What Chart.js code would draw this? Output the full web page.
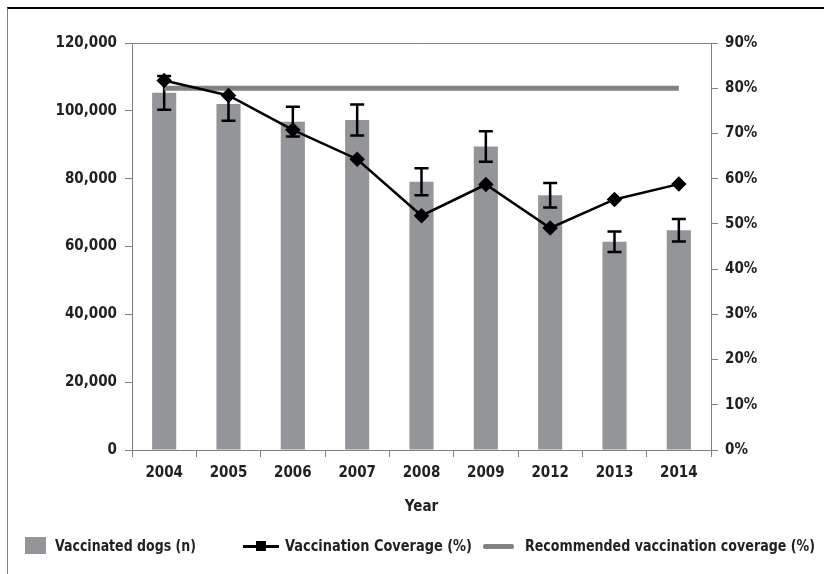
<!DOCTYPE html>
<html>
<head>
<meta charset="utf-8">
<script src="https://cdn.jsdelivr.net/npm/chart.js@4"></script>
<style>
  body { margin: 0; background: #fff; }
  #wrap { position: relative; width: 824px; height: 574px; font-family: "DejaVu Sans Condensed", "DejaVu Sans", sans-serif; font-stretch: condensed; font-weight: bold; color: #231f20; }
  #frame { position: absolute; left: 7px; top: 7px; right: 0; bottom: 0; border-left: 1px solid #808080; border-top: 2px solid #000; }
  #chart { position: absolute; left: 0; top: 0; }
  .lg { position: absolute; top: 536px; font-size: 16px; line-height: 20px; white-space: nowrap; display: inline-block; transform-origin: 0 50%; }
  .mk { position: absolute; }
</style>
</head>
<body>
<div id="wrap">
  <div id="frame"></div>
  <canvas id="chart" width="824" height="574"></canvas>
  <div class="mk" style="left:25px;top:537px;width:21px;height:17px;background:#939598;"></div>
  <span class="lg" style="left:55px;" data-w="141">Vaccinated dogs (n)</span>
  <div class="mk" style="left:243px;top:545px;width:36px;height:3px;background:#000;"></div>
  <div class="mk" style="left:256px;top:541px;width:10px;height:10px;background:#000;"></div>
  <span class="lg" style="left:285px;" data-w="187">Vaccination Coverage (%)</span>
  <div class="mk" style="left:483px;top:544px;width:31px;height:5px;background:#808285;border-radius:2px;"></div>
  <span class="lg" style="left:525px;" data-w="290">Recommended vaccination coverage (%)</span>
</div>
<script>
// chart values
const years = ['2004', '2005', '2006', '2007', '2008', '2009', '2012', '2013', '2014'];
const dogs = [105300, 102000, 96800, 97300, 79100, 89500, 75100, 61400, 64800];
const dogsErr = [5000, 4900, 4400, 4600, 4000, 4500, 3600, 3000, 3300];
const coverage = [81.7, 78.4, 70.8, 64.3, 51.8, 58.7, 49.1, 55.4, 58.8];
const recommended = [80, 80, 80, 80, 80, 80, 80, 80, 80];
const leftTicks = [0, 20000, 40000, 60000, 80000, 100000, 120000];
const rightTicks = [0, 10, 20, 30, 40, 50, 60, 70, 80, 90];

const txt = '#231f20';
const axisGray = '#808080';
const font = { family: '"DejaVu Sans Condensed", "DejaVu Sans", sans-serif', weight: 'bold', size: 15 };

// squeeze legend texts to the condensed widths of the original
document.querySelectorAll('.lg').forEach(el => {
    const k = Number(el.dataset.w) / el.getBoundingClientRect().width;
    el.style.transform = 'scaleX(' + k + ')';
});

// error bars on the bars, drawn right after the bar dataset
const errorBars = {
    id: 'errorBars',
    afterDatasetDraw(chart, args) {
        if (args.index !== 0) return;
        const ctx = chart.ctx;
        const y = chart.scales.y;
        const meta = chart.getDatasetMeta(0);
        ctx.save();
        ctx.strokeStyle = '#000';
        ctx.lineWidth = 2.5;
        meta.data.forEach((bar, i) => {
            const top = y.getPixelForValue(dogs[i] + dogsErr[i]);
            const bot = y.getPixelForValue(dogs[i] - dogsErr[i]);
            ctx.beginPath();
            ctx.moveTo(bar.x, top); ctx.lineTo(bar.x, bot);
            ctx.moveTo(bar.x - 7, top); ctx.lineTo(bar.x + 7, top);
            ctx.moveTo(bar.x - 7, bot); ctx.lineTo(bar.x + 7, bot);
            ctx.stroke();
        });
        ctx.restore();
    }
};

// top edge of the plot box
const topLine = {
    id: 'topLine',
    beforeDatasetsDraw(chart) {
        const a = chart.chartArea;
        const ctx = chart.ctx;
        ctx.save();
        ctx.strokeStyle = axisGray;
        ctx.lineWidth = 1;
        ctx.beginPath();
        ctx.moveTo(a.left, a.top + 0.5);
        ctx.lineTo(a.right, a.top + 0.5);
        ctx.stroke();
        ctx.restore();
    }
};

new Chart(document.getElementById('chart'), {
    data: {
        labels: years,
        datasets: [
            {
                type: 'bar',
                label: 'Vaccinated dogs (n)',
                data: dogs,
                yAxisID: 'y',
                backgroundColor: '#939598',
                barPercentage: 0.375,
                categoryPercentage: 1,
                order: 3
            },
            {
                type: 'line',
                label: 'Recommended vaccination coverage (%)',
                data: recommended,
                yAxisID: 'y1',
                borderColor: '#808285',
                borderWidth: 5,
                pointRadius: 0,
                order: 2
            },
            {
                type: 'line',
                label: 'Vaccination Coverage (%)',
                data: coverage,
                yAxisID: 'y1',
                borderColor: '#000',
                borderWidth: 2.5,
                pointStyle: 'rectRot',
                pointRadius: 6,
                pointBackgroundColor: '#000',
                pointBorderColor: '#000',
                order: 1
            }
        ]
    },
    options: {
        responsive: false,
        animation: false,
        layout: { padding: { top: 43, bottom: 54, left: 0, right: 0 } },
        plugins: { legend: { display: false }, tooltip: { enabled: false } },
        scales: {
            x: {
                offset: true,
                grid: { offset: true, drawOnChartArea: false, tickLength: 7, color: axisGray },
                border: { color: axisGray },
                ticks: { color: txt, font: font, padding: 7 },
                title: { display: true, text: 'Year', color: txt, font: font, padding: { top: 5 } },
                afterFit: s => { s.height = 70; }
            },
            y: {
                position: 'left',
                min: 0, max: 120000,
                afterBuildTicks: s => { s.ticks = leftTicks.map(v => ({ value: v })); },
                grid: { drawOnChartArea: false, tickLength: 7, color: axisGray },
                border: { color: axisGray },
                ticks: { color: txt, font: font, padding: 8, callback: v => v.toLocaleString('en-US') },
                afterFit: s => { s.width = 132; }
            },
            y1: {
                position: 'right',
                min: 0, max: 90,
                afterBuildTicks: s => { s.ticks = rightTicks.map(v => ({ value: v })); },
                grid: { drawOnChartArea: false, tickLength: 7, color: axisGray },
                border: { color: axisGray },
                ticks: { color: txt, font: font, padding: 7, callback: v => v + '%' },
                afterFit: s => { s.width = 113; }
            }
        }
    },
    plugins: [errorBars, topLine]
});
</script>
</body>
</html>
